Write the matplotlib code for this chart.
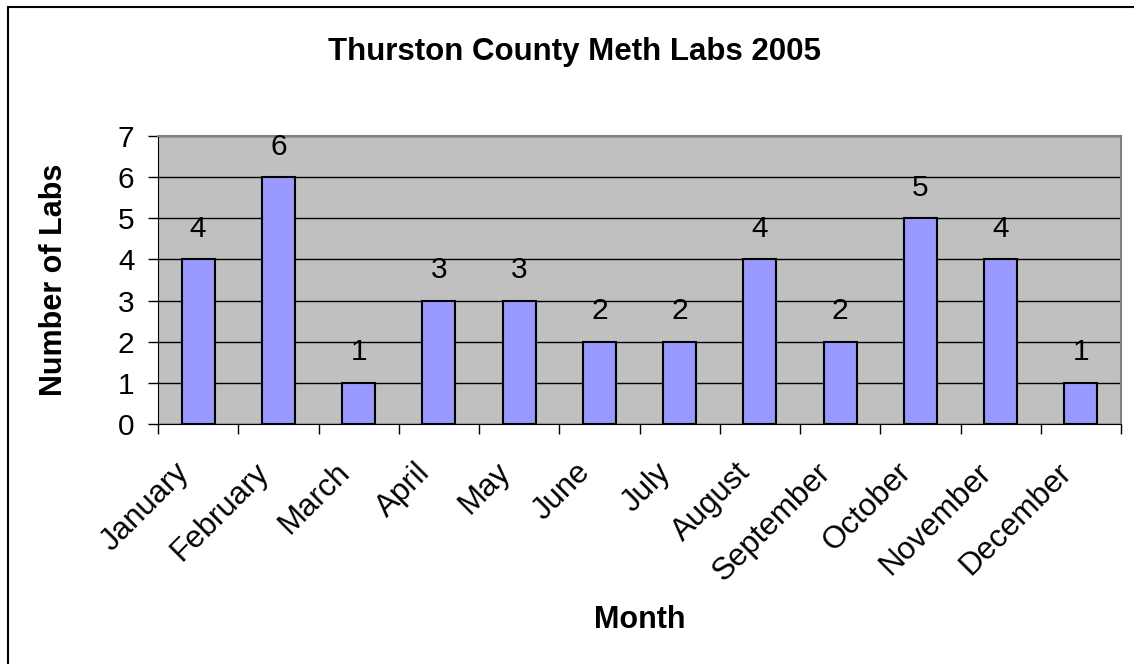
import matplotlib.pyplot as plt
from matplotlib.patches import Rectangle

months = ['January', 'February', 'March', 'April', 'May', 'June', 'July',
          'August', 'September', 'October', 'November', 'December']
labs = [4, 6, 1, 3, 3, 2, 2, 4, 2, 5, 4, 1]

plt.rcParams['font.family'] = ['Liberation Sans', 'DejaVu Sans']

fig = plt.figure(figsize=(11.34, 6.64), dpi=100)
# outer chart border (right/bottom edges run off the picture)
fig.patches.append(Rectangle((8 / 1134, -0.01), 1.02, (664 - 7) / 664 + 0.01,
                             transform=fig.transFigure, fill=False,
                             edgecolor='black', linewidth=1.5))

ax = fig.add_axes([158 / 1134, 1 - 424 / 664, (1121 - 158) / 1134, (424 - 136) / 664])
ax.set_facecolor('#c0c0c0')

x = range(len(months))
ax.bar(x, labs, width=0.41, color='#9999ff', edgecolor='black', linewidth=1.5, zorder=3)
for xi, v in zip(x, labs):
    ax.annotate(str(v), (xi, v), xytext=(0, 22), textcoords='offset points',
                ha='center', va='center', fontsize=21.5)

ax.set_xlim(-0.5, len(months) - 0.5)
ax.set_ylim(0, 7)
ax.set_yticks(range(8))
ax.tick_params(axis='y', labelsize=21.5, length=7, width=1, direction='out', pad=10)
ax.yaxis.grid(True, color='black', linewidth=1, zorder=1)
ax.set_axisbelow(True)

# category boundary ticks, month names written as rotated text
ax.set_xticks([i - 0.5 for i in range(len(months) + 1)])
ax.set_xticklabels([])
ax.tick_params(axis='x', length=7, width=1, direction='out')
for xi, m in zip(x, months):
    ax.annotate(m, (xi, 0), xycoords=ax.get_xaxis_transform(),
                xytext=(-17.5, -24), textcoords='offset points',
                ha='right', va='top', rotation=45, rotation_mode='anchor', fontsize=22.5)

for side in ['top', 'right']:
    ax.spines[side].set_color('#808080')
    ax.spines[side].set_linewidth(1.5)
ax.spines['left'].set_color('black')
ax.spines['bottom'].set_color('black')

fig.text(574 / 1134, 1 - 60 / 664, 'Thurston County Meth Labs 2005', fontsize=22.5,
         fontweight='bold', ha='center', va='baseline')
ax.set_xlabel('Month', fontsize=22, fontweight='bold', va='center')
ax.xaxis.set_label_coords(0.5, (424 - 620) / 288)
ax.set_ylabel('Number of Labs', fontsize=22, fontweight='bold', va='center')
ax.yaxis.set_label_coords((54 - 158) / 963, 0.5)

fig.savefig('out.png', dpi=100)
